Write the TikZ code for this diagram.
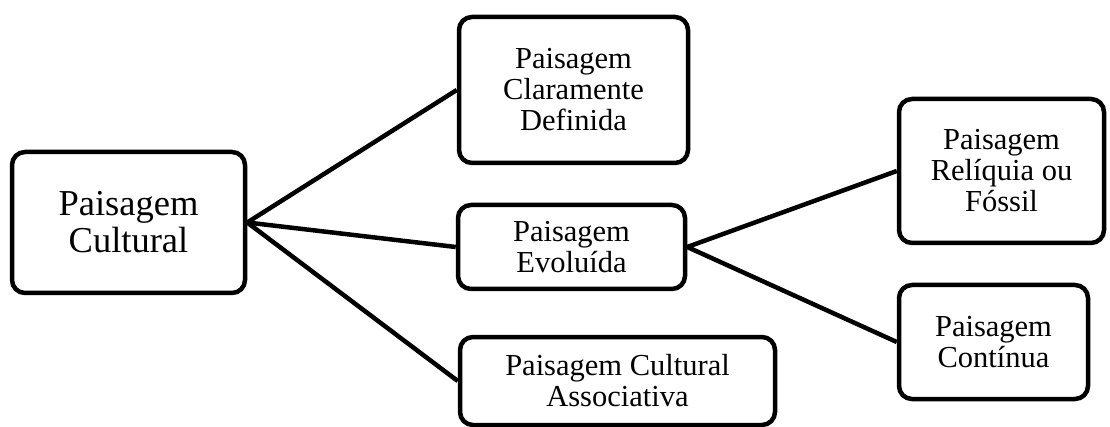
\documentclass[tikz,border=0pt]{standalone}
\usepackage{fontspec}
\setmainfont{Liberation Serif}
\begin{document}
\begin{tikzpicture}[x=1pt,y=-1pt,
  box/.style={draw=black,line width=4.5pt,rounded corners=13pt,fill=white,align=center,inner sep=0pt,
    font=\fontsize{30.5}{31}\selectfont},
  big/.style={font=\fontsize{36.5}{37}\selectfont},
  link/.style={draw=black,line width=4.5pt}]
\useasboundingbox (0,0) rectangle (1110,427);
\node[box,big,minimum width=233pt,minimum height=141pt] (cult) at (128.5,222.5) {Paisagem\\Cultural};
\node[box,minimum width=229pt,minimum height=146pt] (clar) at (573.5,90) {Paisagem\\Claramente\\Definida};
\node[box,minimum width=227pt,minimum height=84pt] (evol) at (571.5,247) {Paisagem\\Evoluída};
\node[box,minimum width=315pt,minimum height=88pt] (asso) at (617.5,381) {Paisagem Cultural\\Associativa};
\node[box,minimum width=205pt,minimum height=144pt] (reli) at (1001.5,171) {Paisagem\\Relíquia ou\\Fóssil};
\node[box,minimum width=189pt,minimum height=114pt] (cont) at (993.5,342) {Paisagem\\Contínua};
\draw[link] (cult.east) -- (clar.west);
\draw[link] (cult.east) -- (evol.west);
\draw[link] (cult.east) -- (asso.west);
\draw[link] (evol.east) -- (reli.west);
\draw[link] (evol.east) -- (cont.west);
\end{tikzpicture}
\end{document}
